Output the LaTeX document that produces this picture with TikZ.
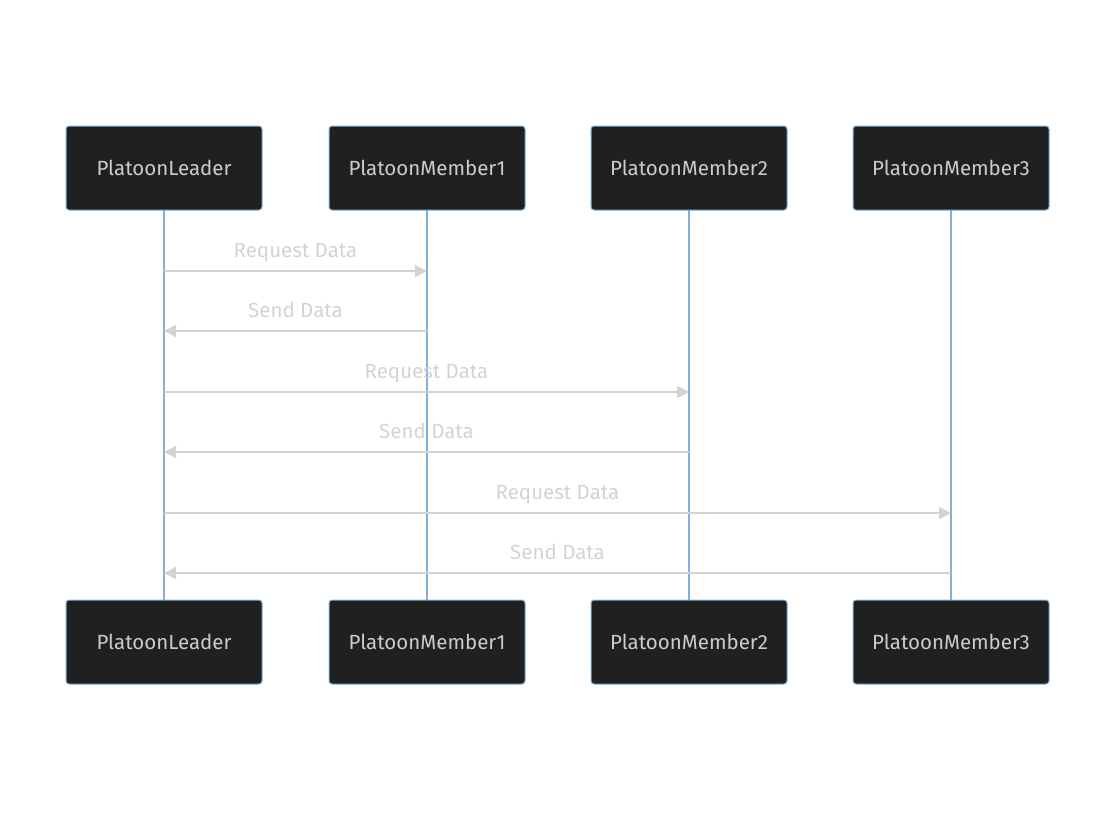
\documentclass[tikz,border=0pt]{standalone}
\usepackage{fontspec}
\setmainfont{Fira Sans}
\usetikzlibrary{arrows.meta}
\definecolor{boxfill}{HTML}{1F2020}
\definecolor{boxline}{HTML}{81B1DB}
\definecolor{txtgray}{HTML}{CCCCCC}
\definecolor{msggray}{HTML}{D3D3D3}
\tikzset{
  actor/.style={draw=boxline, fill=boxfill, rounded corners=3pt, line width=1pt,
    minimum width=196pt, minimum height=84pt, text=txtgray, font=\fontsize{20.5}{24}\selectfont},
  life/.style={draw=boxline, line width=2pt},
  msg/.style={draw=msggray, line width=1.5pt, -{Triangle[length=12pt,width=12pt]}},
  msgtxt/.style={text=msggray, anchor=base, yshift=14pt, font=\fontsize{20.5}{24}\selectfont}
}
\begin{document}
\begin{tikzpicture}[x=1pt,y=-1pt]
  \useasboundingbox (0,0) rectangle (1116,812);
  % lifelines
  \coordinate (lt) at (164,210); \coordinate (lb) at (164,600);
  \coordinate (at) at (427,210); \coordinate (ab) at (427,600);
  \coordinate (bt) at (689,210); \coordinate (bb) at (689,600);
  \coordinate (ct) at (951,210); \coordinate (cb) at (951,600);
  \draw[life] (lt) -- (lb);
  \draw[life] (at) -- (ab);
  \draw[life] (bt) -- (bb);
  \draw[life] (ct) -- (cb);
  % actors
  \node[actor] (leadtop) at (164,168) {PlatoonLeader};
  \node[actor] (mem1top) at (427,168) {PlatoonMember1};
  \node[actor] (mem2top) at (689,168) {PlatoonMember2};
  \node[actor] (mem3top) at (951,168) {PlatoonMember3};
  \node[actor] (leadbot) at (164,642) {PlatoonLeader};
  \node[actor] (mem1bot) at (427,642) {PlatoonMember1};
  \node[actor] (mem2bot) at (689,642) {PlatoonMember2};
  \node[actor] (mem3bot) at (951,642) {PlatoonMember3};
  % messages
  \draw[msg] (leadtop.south |- 0,271) -- (mem1top.south |- 0,271) node[midway,msgtxt] {Request Data};
  \draw[msg] (mem1top.south |- 0,331) -- (leadtop.south |- 0,331) node[midway,msgtxt] {Send Data};
  \draw[msg] (leadtop.south |- 0,392) -- (mem2top.south |- 0,392) node[midway,msgtxt] {Request Data};
  \draw[msg] (mem2top.south |- 0,452) -- (leadtop.south |- 0,452) node[midway,msgtxt] {Send Data};
  \draw[msg] (leadtop.south |- 0,513) -- (mem3top.south |- 0,513) node[midway,msgtxt] {Request Data};
  \draw[msg] (mem3top.south |- 0,573) -- (leadtop.south |- 0,573) node[midway,msgtxt] {Send Data};
\end{tikzpicture}
\end{document}
